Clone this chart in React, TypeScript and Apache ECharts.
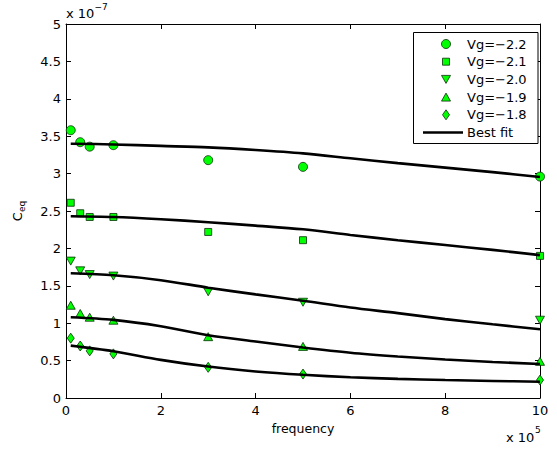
import React, { useEffect, useRef } from "react";
import * as echarts from "echarts";

const freq = [0.1, 0.3, 0.5, 1, 3, 5, 10];
const seriesNames = ["Vg=\u22122.2", "Vg=\u22122.1", "Vg=\u22122.0", "Vg=\u22121.9", "Vg=\u22121.8"];
const fitName = "Best fit";
const vg22 = [3.58, 3.42, 3.36, 3.38, 3.18, 3.09, 2.96];
const vg21 = [2.61, 2.47, 2.42, 2.42, 2.22, 2.11, 1.9];
const vg20 = [1.83, 1.7, 1.65, 1.63, 1.42, 1.28, 1.04];
const vg19 = [1.24, 1.13, 1.08, 1.04, 0.82, 0.69, 0.49];
const vg18 = [0.8, 0.695, 0.63, 0.59, 0.41, 0.32, 0.24];

const fitX = [0.1, 1, 2, 3, 4, 5, 6, 7, 8, 9, 10];
const fit22 = [3.4, 3.39, 3.37, 3.35, 3.315, 3.27, 3.205, 3.14, 3.08, 3.02, 2.955];
const fit21 = [2.43, 2.42, 2.39, 2.35, 2.305, 2.255, 2.18, 2.11, 2.045, 1.98, 1.91];
const fit20 = [1.667, 1.64, 1.575, 1.475, 1.385, 1.3, 1.21, 1.135, 1.055, 0.985, 0.92];
const fit19 = [1.08, 1.045, 0.96, 0.84, 0.755, 0.675, 0.605, 0.555, 0.515, 0.482, 0.455];
const fit18 = [0.7, 0.625, 0.51, 0.42, 0.355, 0.31, 0.277, 0.256, 0.24, 0.228, 0.218];

const xTickStep = 2;
const yTickStep = 0.5;

const FONT = "'DejaVu Sans', 'Liberation Sans', Arial, sans-serif";
const GREEN = "#00ff00";
const EDGE = "#0b2e0b";

export default function App() {
  const ref = useRef<HTMLDivElement>(null);
  useEffect(() => {
    if (!ref.current) return;
    const chart = echarts.init(ref.current, null, { renderer: "svg" });
    const scatterData = [vg22, vg21, vg20, vg19, vg18];
    const fits = [fit22, fit21, fit20, fit19, fit18];
    const symbols: any[] = [
      { symbol: "circle", size: 9 },
      { symbol: "rect", size: 7 },
      { symbol: "path://M0,0 L10,0 L5,8.5 Z", size: [9, 8] },
      { symbol: "path://M5,0 L10,8.5 L0,8.5 Z", size: [9, 8] },
      { symbol: "diamond", size: [7, 10] },
    ];
    const series: any[] = [];
    scatterData.forEach((d, i) => {
      series.push({
        type: "scatter",
        name: seriesNames[i],
        data: freq.map((x, j) => [x, d[j]]),
        symbol: symbols[i].symbol,
        symbolSize: symbols[i].size,
        itemStyle: { color: GREEN, borderColor: EDGE, borderWidth: 0.8, opacity: 1 },
        z: 2,
      });
    });
    fits.forEach((d) => {
      series.push({
        type: "line",
        name: fitName,
        data: fitX.map((x, j) => [x, d[j]]),
        smooth: 0.3,
        symbol: "none",
        lineStyle: { color: "#000", width: 2.6 },
        itemStyle: { color: "#000" },
        z: 3,
      });
    });

    const axisCommon = {
      axisLine: { show: true, onZero: false, lineStyle: { color: "#000", width: 1 } },
      axisTick: { show: true, inside: true, length: 5, lineStyle: { color: "#000", width: 1 } },
      splitLine: { show: false },
    };

    // legend drawn with graphic elements
    const lx = 446;
    const rowY = [44, 61.7, 79.4, 97.1, 114.8, 132.5];
    const mk = { fill: GREEN, stroke: EDGE, lineWidth: 0.8 };
    const legendEls: any[] = [
      {
        type: "rect",
        z: 8,
        shape: { x: 413.5, y: 32.5, width: 124.5, height: 111 },
        style: { fill: "#fff", stroke: "#000", lineWidth: 1 },
      },
      { type: "circle", z: 9, shape: { cx: lx, cy: rowY[0], r: 4.5 }, style: mk },
      { type: "rect", z: 9, shape: { x: lx - 3.5, y: rowY[1] - 3.5, width: 7, height: 7 }, style: mk },
      {
        type: "polygon",
        z: 9,
        shape: { points: [[lx - 4.5, rowY[2] - 4], [lx + 4.5, rowY[2] - 4], [lx, rowY[2] + 4]] },
        style: mk,
      },
      {
        type: "polygon",
        z: 9,
        shape: { points: [[lx, rowY[3] - 4], [lx + 4.5, rowY[3] + 4], [lx - 4.5, rowY[3] + 4]] },
        style: mk,
      },
      {
        type: "polygon",
        z: 9,
        shape: { points: [[lx, rowY[4] - 5], [lx + 3.5, rowY[4]], [lx, rowY[4] + 5], [lx - 3.5, rowY[4]]] },
        style: mk,
      },
      {
        type: "line",
        z: 9,
        shape: { x1: 423, y1: rowY[5], x2: 463, y2: rowY[5] },
        style: { stroke: "#000", lineWidth: 2.6 },
      },
    ];
    const names = [...seriesNames, fitName];
    names.forEach((n, i) => {
      legendEls.push({
        type: "text",
        z: 9,
        x: 467,
        y: rowY[i],
        style: { text: n, fill: "#000", font: `13px ${FONT}`, align: "left", verticalAlign: "middle" },
      });
    });

    chart.setOption({
      animation: false,
      grid: { left: 66, right: 17, top: 24, bottom: 51, containLabel: false },
      xAxis: [
        {
          type: "value",
          min: 0,
          max: 10,
          interval: xTickStep,
          position: "bottom",
          ...axisCommon,
          axisLabel: { color: "#000", fontSize: 13, fontFamily: FONT, margin: 6 },
          name: "frequency",
          nameLocation: "middle",
          nameGap: 22,
          nameTextStyle: { color: "#000", fontSize: 12.5, fontFamily: FONT, verticalAlign: "top" },
        },
        {
          type: "value",
          min: 0,
          max: 10,
          interval: xTickStep,
          position: "top",
          ...axisCommon,
          axisLabel: { show: false },
        },
      ],
      yAxis: [
        {
          type: "value",
          min: 0,
          max: 5,
          interval: yTickStep,
          position: "left",
          ...axisCommon,
          axisLabel: { color: "#000", fontSize: 13, fontFamily: FONT, margin: 5 },
          name: "{a|C}{b|eq}",
          nameLocation: "middle",
          nameGap: 40,
          nameTextStyle: {
            color: "#000",
            fontFamily: FONT,
            rich: {
              a: { fontSize: 13, fontFamily: FONT, color: "#000", lineHeight: 18, verticalAlign: "middle" },
              b: { fontSize: 9, fontFamily: FONT, color: "#000", lineHeight: 18, verticalAlign: "bottom" },
            },
          },
        },
        {
          type: "value",
          min: 0,
          max: 5,
          interval: yTickStep,
          position: "right",
          ...axisCommon,
          axisLabel: { show: false },
        },
      ],
      graphic: [
        ...legendEls,
        {
          type: "text",
          x: 66,
          y: 13.5,
          style: { text: "x 10", fill: "#000", font: `13px ${FONT}`, align: "left", verticalAlign: "middle" },
        },
        {
          type: "text",
          x: 94.5,
          y: 6.5,
          style: { text: "\u22127", fill: "#000", font: `9px ${FONT}`, align: "left", verticalAlign: "middle" },
        },
        {
          type: "text",
          x: 506,
          y: 437,
          style: { text: "x 10", fill: "#000", font: `13px ${FONT}`, align: "left", verticalAlign: "middle" },
        },
        {
          type: "text",
          x: 535,
          y: 430,
          style: { text: "5", fill: "#000", font: `9px ${FONT}`, align: "left", verticalAlign: "middle" },
        },
      ],
      series,
    });
    return () => chart.dispose();
  }, []);
  return (
    <div
      ref={ref}
      style={{ position: "fixed", left: 0, top: 0, width: 557, height: 449, background: "#fff" }}
    />
  );
}
